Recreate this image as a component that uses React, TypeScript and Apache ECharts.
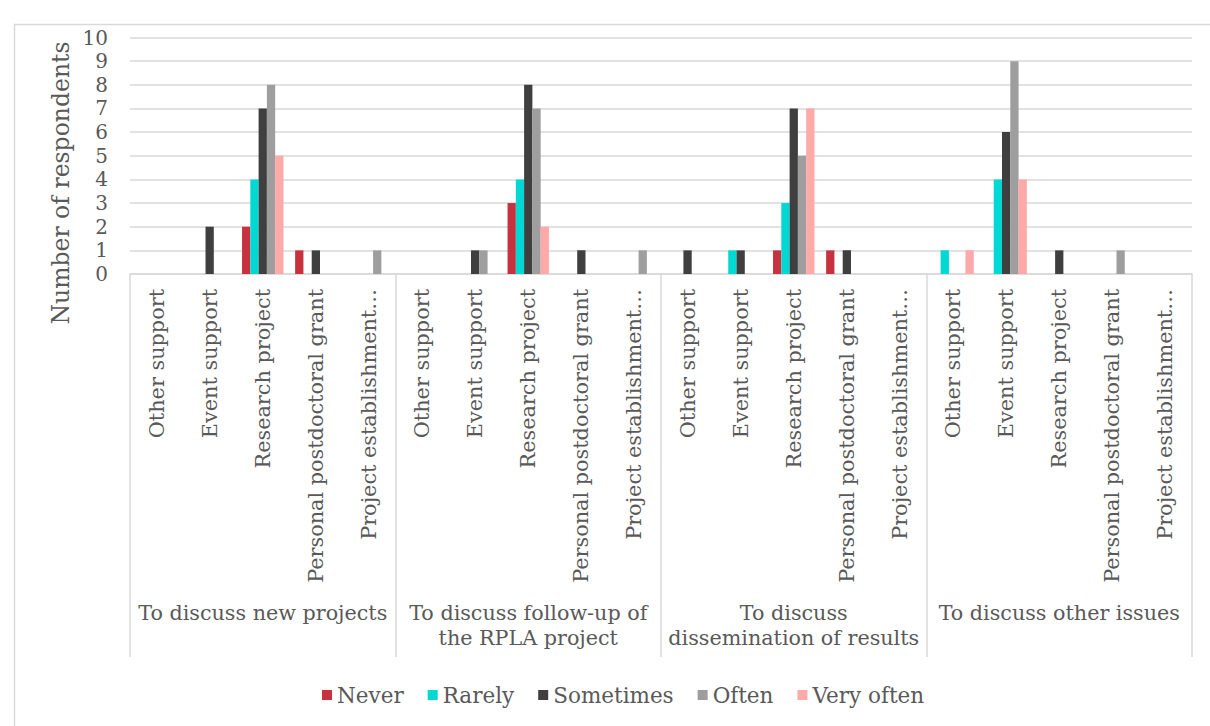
import React, { useEffect, useRef } from "react";
import * as echarts from "echarts";

const groups = [
  "To discuss new projects",
  "To discuss follow-up of\nthe RPLA project",
  "To discuss\ndissemination of results",
  "To discuss other issues",
];
const subCategories = [
  "Other support",
  "Event support",
  "Research project",
  "Personal postdoctoral grant",
  "Project establishment…",
];
const categories = groups.flatMap(() => subCategories);

const seriesNames = ["Never", "Rarely", "Sometimes", "Often", "Very often"];
const seriesColors = ["#C7323E", "#00D8D4", "#3F3F3F", "#9E9E9E", "#FFA9A9"];

const never = [0, 0, 2, 1, 0, 0, 0, 3, 0, 0, 0, 0, 1, 1, 0, 0, 0, 0, 0, 0];
const rarely = [0, 0, 4, 0, 0, 0, 0, 4, 0, 0, 0, 1, 3, 0, 0, 1, 4, 0, 0, 0];
const sometimes = [0, 2, 7, 1, 0, 0, 1, 8, 1, 0, 1, 1, 7, 1, 0, 0, 6, 1, 0, 0];
const often = [0, 0, 8, 0, 1, 0, 1, 7, 0, 1, 0, 0, 5, 0, 0, 0, 9, 0, 1, 0];
const veryOften = [0, 0, 5, 0, 0, 0, 0, 2, 0, 0, 0, 0, 7, 0, 0, 1, 4, 0, 0, 0];
const seriesValues = [never, rarely, sometimes, often, veryOften];

const yTicks = { min: 0, max: 10, interval: 1 };

const FONT = "DejaVu Serif";
const TEXT = "#595959";
const LINE = "#D9D9D9";

export default function App() {
  const ref = useRef<HTMLDivElement>(null);
  useEffect(() => {
    if (!ref.current) return;
    const chart = echarts.init(ref.current, null, { renderer: "svg" });
    chart.setOption({
      animation: false,
      backgroundColor: "#ffffff",
      textStyle: { fontFamily: FONT },
      grid: { left: 130, right: 18, top: 37.5, bottom: 452, containLabel: false },
      legend: {
        data: seriesNames,
        left: 317,
        top: 679,
        icon: "rect",
        itemWidth: 10,
        itemHeight: 10,
        itemGap: 24,
        textStyle: { fontFamily: FONT, fontSize: 21.5, color: TEXT },
      },
      xAxis: [
        {
          type: "category",
          data: categories,
          axisLine: { show: true, lineStyle: { color: LINE, width: 1.5 } },
          axisTick: { show: false },
          axisLabel: {
            interval: 0,
            rotate: 90,
            fontFamily: FONT,
            fontSize: 20.8,
            color: TEXT,
            margin: 15,
          },
          splitLine: { show: false },
        },
        {
          type: "category",
          data: groups,
          position: "bottom",
          axisLine: { show: false },
          axisTick: {
            show: true,
            interval: 0,
            length: 383,
            lineStyle: { color: LINE, width: 1.5 },
          },
          axisLabel: {
            interval: 0,
            fontFamily: FONT,
            fontSize: 20.7,
            lineHeight: 25,
            color: TEXT,
            margin: 326,
          },
          splitLine: { show: false },
        },
      ],
      yAxis: {
        type: "value",
        min: yTicks.min,
        max: yTicks.max,
        interval: yTicks.interval,
        axisLine: { show: false },
        axisTick: { show: false },
        axisLabel: { fontFamily: FONT, fontSize: 20, color: TEXT, margin: 22 },
        splitLine: { lineStyle: { color: LINE, width: 1.5 } },
      },
      graphic: [
        {
          type: "rect",
          left: 12,
          top: 22,
          shape: { x: 0, y: 0, width: 1220, height: 720 },
          style: { fill: "none", stroke: LINE, lineWidth: 1.5 },
          silent: true,
        },
        {
          type: "text",
          x: 61,
          y: 183,
          rotation: Math.PI / 2,
          style: {
            text: "Number of respondents",
            fontFamily: FONT,
            fontSize: 23.5,
            fill: TEXT,
            align: "center",
            verticalAlign: "middle",
          },
        },
      ],
      series: seriesNames.map((name, i) => ({
        name,
        type: "bar",
        xAxisIndex: 0,
        data: seriesValues[i],
        barGap: "0%",
        barCategoryGap: "22%",
        itemStyle: { color: seriesColors[i] },
      })),
    });
    return () => chart.dispose();
  }, []);
  return (
    <div
      ref={ref}
      style={{ position: "absolute", left: 0, top: 0, width: 1210, height: 726 }}
    />
  );
}
